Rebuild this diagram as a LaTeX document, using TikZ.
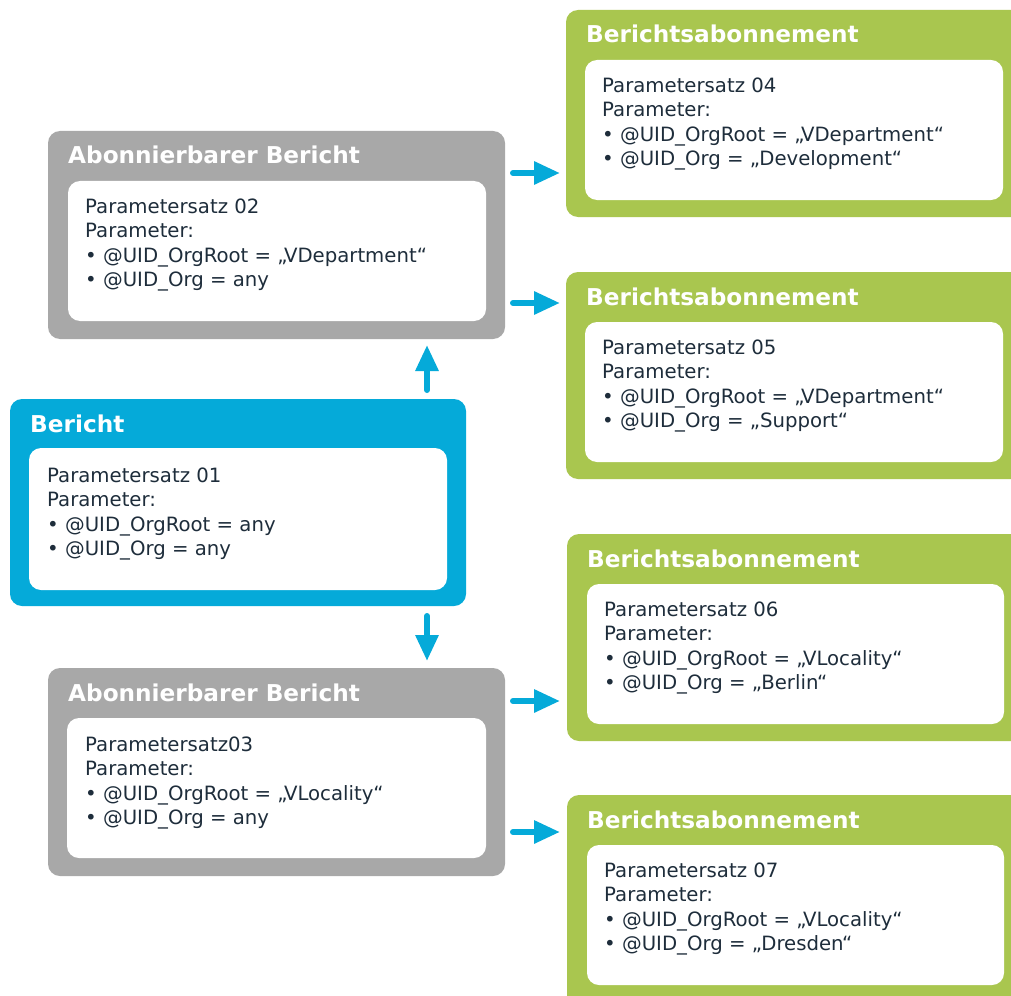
\documentclass[tikz,border=0pt]{standalone}
\usepackage{fontspec}
\setmainfont{DejaVu Sans}
\usetikzlibrary{arrows.meta,calc}
\definecolor{grey}{HTML}{A8A8A8}
\definecolor{green}{HTML}{A9C64F}
\definecolor{blue}{HTML}{05AAD9}
\definecolor{tx}{HTML}{1E2D3B}
\begin{document}
\begin{tikzpicture}[x=1pt,y=-1pt,
 box/.style={draw=none, rounded corners=12pt, anchor=north west, inner sep=0pt, outer sep=0pt},
 innerbox/.style={fill=white, draw=none, rounded corners=12pt, anchor=north west, inner sep=0pt, outer sep=0pt},
 boxtitle/.style={anchor=base west, inner sep=0pt, text=white, font=\fontsize{23.2}{27}\selectfont\bfseries},
 body/.style={anchor=north west, inner sep=0pt, align=left, text=tx, font=\fontsize{19.7}{24.3}\selectfont},
 arr/.style={draw=blue, line width=6pt, line cap=round, -{Triangle[length=26pt,width=22pt]}}]
\clip (0,0) rectangle (1011,995);
\fill[white] (0,0) rectangle (1011,995);

% Green boxes
\node[box, fill=green, minimum width=459pt, minimum height=207pt] (g1) at (566,10) {};
\node[innerbox, minimum width=418pt, minimum height=140pt] (g1i) at (585,60) {};
\node[boxtitle] (g1t) at (586,43) {Berichtsabonnement};
\node[body] (g1b) at (602,77.6) {Parametersatz 04\\Parameter:\\• @UID\_OrgRoot = „VDepartment“\\• @UID\_Org = „Development“};

\node[box, fill=green, minimum width=459pt, minimum height=207pt] (g2) at (566,272) {};
\node[innerbox, minimum width=418pt, minimum height=140pt] (g2i) at (585,322) {};
\node[boxtitle] (g2t) at (586,305) {Berichtsabonnement};
\node[body] (g2b) at (602,339.6) {Parametersatz 05\\Parameter:\\• @UID\_OrgRoot = „VDepartment“\\• @UID\_Org = „Support“};

\node[box, fill=green, minimum width=458pt, minimum height=207pt] (g3) at (567,534) {};
\node[innerbox, minimum width=417pt, minimum height=140pt] (g3i) at (587,584) {};
\node[boxtitle] (g3t) at (587,567) {Berichtsabonnement};
\node[body] (g3b) at (604,601.6) {Parametersatz 06\\Parameter:\\• @UID\_OrgRoot = „VLocality“\\• @UID\_Org = „Berlin“};

\node[box, fill=green, minimum width=458pt, minimum height=215pt] (g4) at (567,795) {};
\node[innerbox, minimum width=417pt, minimum height=140pt] (g4i) at (587,845) {};
\node[boxtitle] (g4t) at (587,828) {Berichtsabonnement};
\node[body] (g4b) at (604,862.6) {Parametersatz 07\\Parameter:\\• @UID\_OrgRoot = „VLocality“\\• @UID\_Org = „Dresden“};

% Grey boxes
\node[box, fill=grey, minimum width=457pt, minimum height=208pt] (a1) at (48,131) {};
\node[innerbox, minimum width=418pt, minimum height=140pt] (a1i) at (68,181) {};
\node[boxtitle] (a1t) at (68,164) {Abonnierbarer Bericht};
\node[body] (a1b) at (85,198.6) {Parametersatz 02\\Parameter:\\• @UID\_OrgRoot = „VDepartment“\\• @UID\_Org = any};

\node[box, fill=grey, minimum width=457pt, minimum height=208pt] (a2) at (48,668) {};
\node[innerbox, minimum width=419pt, minimum height=140pt] (a2i) at (67,718) {};
\node[boxtitle] (a2t) at (68,701) {Abonnierbarer Bericht};
\node[body] (a2b) at (85,736.6) {Parametersatz03\\Parameter:\\• @UID\_OrgRoot = „VLocality“\\• @UID\_Org = any};

% Blue box
\node[box, fill=blue, minimum width=456pt, minimum height=207pt] (b) at (10,399) {};
\node[innerbox, minimum width=418pt, minimum height=142pt] (bi) at (29,448) {};
\node[boxtitle] (bt) at (30,432) {Bericht};
\node[body] (bb) at (47,467.6) {Parametersatz 01\\Parameter:\\• @UID\_OrgRoot = any\\• @UID\_Org = any};

% Arrows
\coordinate (s1) at ($(a1.north east)+(0,42)$);
\coordinate (s2) at ($(a1.north east)+(0,172)$);
\coordinate (s3) at ($(a2.north east)+(0,33)$);
\coordinate (s4) at ($(a2.north east)+(0,164)$);
\draw[arr, shorten <=8pt, shorten >=6pt] (s1) -- (s1 -| g1.west);
\draw[arr, shorten <=8pt, shorten >=6pt] (s2) -- (s2 -| g2.west);
\draw[arr, shorten <=8pt, shorten >=7pt] (s3) -- (s3 -| g3.west);
\draw[arr, shorten <=8pt, shorten >=7pt] (s4) -- (s4 -| g4.west);
\coordinate (vx) at ($(b.north west)+(417,0)$);
\draw[arr, shorten <=9pt, shorten >=6pt] (vx) -- (vx |- a1.south);
\draw[arr, shorten <=10pt, shorten >=7pt] (vx |- b.south) -- (vx |- a2.north);
\end{tikzpicture}
\end{document}
